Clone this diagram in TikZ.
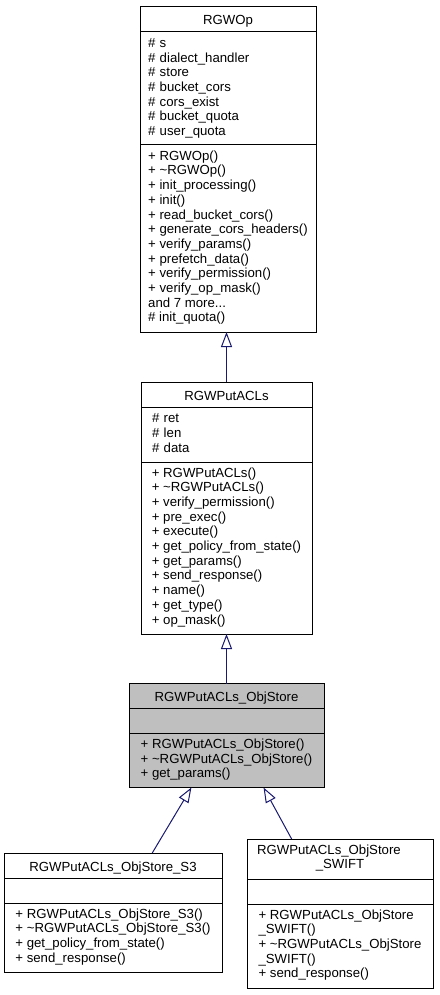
\documentclass[tikz,border=0pt]{standalone}
\usepackage{fontspec}
\setmainfont{Liberation Sans}
\usetikzlibrary{positioning,calc,arrows.meta}
\definecolor{edgeblue}{RGB}{25,25,112}
\definecolor{hlgray}{RGB}{191,191,191}
\newcommand{\dxfont}{\fontsize{13.2}{14.7}\selectfont}

\begin{document}
\begin{tikzpicture}[
    x=1pt, y=-1pt,
    font=\dxfont,
    titlebox/.style={rectangle, draw, line width=1pt, outer sep=0pt, inner sep=0pt,
                     minimum width=#1, minimum height=25pt, text height=11pt, text depth=0pt},
    membox/.style={rectangle, draw, line width=1pt, outer sep=0pt, inner sep=0pt,
                   minimum width=#1, align=left,
                   execute at begin node=\strut, execute at end node=\strut},
    current/.style={fill=hlgray},
    inherit/.style={edgeblue, line width=1pt,
                    -{Triangle[length=15pt, width=11pt, fill=white]}}
]
\useasboundingbox (0,0) rectangle (439,995);

%% ── RGWOp ────────────────────────────────────────────────────────
\node[titlebox=176pt] (op) at (228,19.5) {RGWOp};
\node[membox=176pt, text width=160pt, minimum height=113pt, below=0pt of op] (opattr)
    {\# s\\\# dialect\_handler\\\# store\\\# bucket\_cors\\\# cors\_exist\\\# bucket\_quota\\\# user\_quota};
\node[membox=176pt, minimum height=187pt, below=0pt of opattr] (opmeth)
    {+ RGWOp()\\+ \textasciitilde RGWOp()\\+ init\_processing()\\+ init()\\+ read\_bucket\_cors()\\+ generate\_cors\_headers()\\+ verify\_params()\\+ prefetch\_data()\\+ verify\_permission()\\+ verify\_op\_mask()\\and 7 more...\\\# init\_quota()};

%% ── RGWPutACLs ───────────────────────────────────────────────────
\node[titlebox=171pt] (put) at (226.5,394.5) {RGWPutACLs};
\node[membox=171pt, text width=149pt, minimum height=55pt, below=0pt of put] (putattr)
    {\# ret\\\# len\\\# data};
\node[membox=171pt, minimum height=172pt, below=0pt of putattr] (putmeth)
    {+ RGWPutACLs()\\+ \textasciitilde RGWPutACLs()\\+ verify\_permission()\\+ pre\_exec()\\+ execute()\\+ get\_policy\_from\_state()\\+ get\_params()\\+ send\_response()\\+ name()\\+ get\_type()\\+ op\_mask()};

%% ── RGWPutACLs_ObjStore ──────────────────────────────────────────
\node[titlebox=195pt, current] (obj) at (226.5,696) {RGWPutACLs\_ObjStore};
\node[membox=195pt, current, minimum height=25pt, below=0pt of obj] (objattr) {};
\node[membox=195pt, current, minimum height=54pt, below=0pt of objattr] (objmeth)
    {+ RGWPutACLs\_ObjStore()\\+ \textasciitilde RGWPutACLs\_ObjStore()\\+ get\_params()};

%% ── RGWPutACLs_ObjStore_S3 ───────────────────────────────────────
\node[titlebox=218pt] (s3) at (113,865.5) {RGWPutACLs\_ObjStore\_S3};
\node[membox=218pt, minimum height=25pt, below=0pt of s3] (s3attr) {};
\node[membox=218pt, minimum height=69pt, below=0pt of s3attr] (s3meth)
    {+ RGWPutACLs\_ObjStore\_S3()\\+ \textasciitilde RGWPutACLs\_ObjStore\_S3()\\+ get\_policy\_from\_state()\\+ send\_response()};

%% ── RGWPutACLs_ObjStore_SWIFT ────────────────────────────────────
\node[membox=186pt, minimum height=40pt, align=center] (swift) at (340,859)
    {\makebox[166pt][l]{RGWPutACLs\_ObjStore}\\\_SWIFT};
\node[membox=186pt, minimum height=25pt, below=0pt of swift] (swiftattr) {};
\node[membox=186pt, minimum height=84pt, below=0pt of swiftattr] (swiftmeth)
    {+ RGWPutACLs\_ObjStore\\\_SWIFT()\\+ \textasciitilde RGWPutACLs\_ObjStore\\\_SWIFT()\\+ send\_response()};

%% ── Inheritance ──────────────────────────────────────────────────
\draw[inherit] (put.north) -- (put.north |- opmeth.south);
\draw[inherit] (obj.north) -- (obj.north |- putmeth.south);
\draw[inherit] ($(s3.north west)!0.68!(s3.north east)$)
    -- ($(objmeth.south west)!0.32!(objmeth.south east)$);
\draw[inherit] ($(swift.north west)!0.24!(swift.north east)$)
    -- ($(objmeth.south west)!0.69!(objmeth.south east)$);

\end{tikzpicture}
\end{document}
